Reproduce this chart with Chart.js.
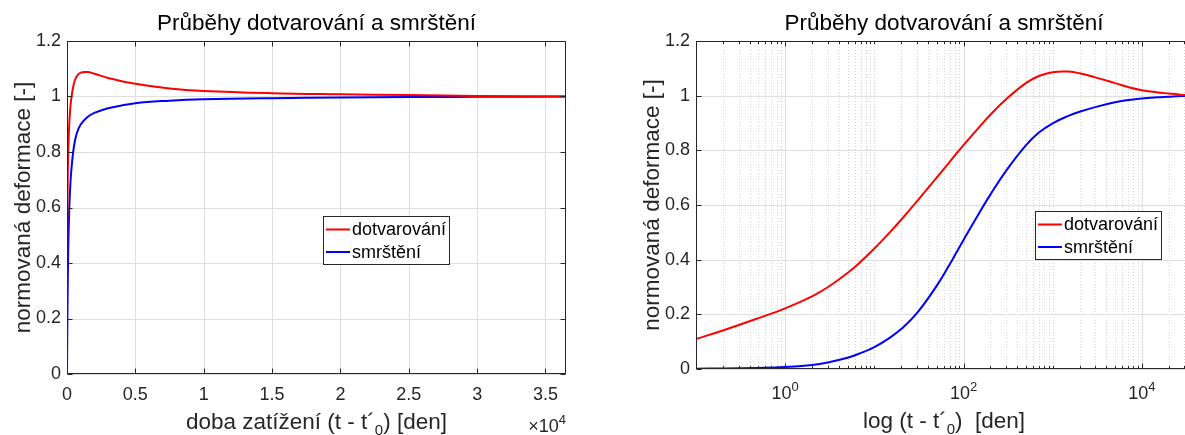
<!DOCTYPE html>
<html><head><meta charset="utf-8">
<script src="https://cdn.jsdelivr.net/npm/chart.js@4.4.1/dist/chart.umd.min.js"></script>
<style>
html,body{margin:0;padding:0;background:#fff;overflow:hidden;width:1185px;height:435px;}
.wrap{position:absolute;top:0;width:600px;height:435px;}
</style></head><body>
<div class="wrap" style="left:0"><canvas id="c1" width="600" height="435"></canvas></div>
<div class="wrap" style="left:600px"><canvas id="c2" width="600" height="435"></canvas></div>
<script>
// ---- data ----
const T_DAYS = [0, 0.1, 0.2, 0.5, 1, 2, 3, 5, 7, 10, 15, 20, 30, 50, 75, 100, 150, 200, 300, 500, 700, 1000, 1500, 2000, 3000, 5000, 7500, 10000, 15000, 20000, 25000, 30000, 36500];
const CREEP  = [0, 0.110, 0.141, 0.186, 0.222, 0.266, 0.299, 0.351, 0.392, 0.441, 0.501, 0.546, 0.613, 0.700, 0.770, 0.819, 0.885, 0.930, 0.987, 1.046, 1.072, 1.086, 1.088, 1.082, 1.067, 1.046, 1.029, 1.020, 1.012, 1.008, 1.005, 1.002, 1.0];
const SHRINK = [0, 0.001, 0.002, 0.004, 0.007, 0.015, 0.024, 0.041, 0.058, 0.080, 0.115, 0.146, 0.204, 0.304, 0.400, 0.472, 0.571, 0.638, 0.725, 0.818, 0.865, 0.899, 0.926, 0.941, 0.958, 0.976, 0.985, 0.990, 0.994, 0.996, 0.998, 0.999, 1.0];
const SERIES_NAMES = ['dotvarování', 'smrštění'];
const SERIES_COLORS = ['#ff0000', '#0000ff'];
const Y_TICKS = [0, 0.2, 0.4, 0.6, 0.8, 1, 1.2];
const Y_TICK_LABELS = ['0', '0.2', '0.4', '0.6', '0.8', '1', '1.2'];
const X_TICKS_LIN = [0, 5000, 10000, 15000, 20000, 25000, 30000, 35000];
const X_TICK_LABELS_LIN = ['0', '0.5', '1', '1.5', '2', '2.5', '3', '3.5'];
const X_RANGE_LIN = [0, 36500];
const X_TICKS_LOG = [1, 100, 10000];
const X_TICK_LABELS_LOG = [['10', '0'], ['10', '2'], ['10', '4']];
const X_RANGE_LOG = [0.1, 36500];
const TITLE = 'Průběhy dotvarování a smrštění';
const Y_LABEL = 'normovaná deformace [-]';
const X_LABEL_LIN = ['doba zatížení (t - t´', '0', ') [den]'];
const X_LABEL_LOG = ['log (t - t´', '0', ')  [den]'];
const X_EXPONENT = ['×10', '4'];

// ---- styling ----
const FONT = '"Liberation Sans", Arial, Helvetica, sans-serif';
const TXT = '#262626';
const AXIS = '#262626';
const GRID = '#dedede';
const MINOR = '#d4d4d4';

function drawRich(ctx, parts, x, y, align, color) {
  let total = 0;
  parts.forEach(p => { ctx.font = p.size + 'px ' + FONT; p.w = ctx.measureText(p.t).width; total += p.w; });
  let cx = align === 'center' ? x - total / 2 : (align === 'right' ? x - total : x);
  ctx.fillStyle = color; ctx.textAlign = 'left'; ctx.textBaseline = 'alphabetic';
  parts.forEach(p => { ctx.font = p.size + 'px ' + FONT; ctx.fillText(p.t, cx, y + (p.dy || 0)); cx += p.w; });
}

function minorLogValues(range) {
  const out = [];
  for (let k = -1; k <= 4; k++) for (let m = 1; m <= 9; m++) {
    const v = m * Math.pow(10, k);
    if (v >= range[0] && v <= range[1] && !X_TICKS_LOG.includes(v)) out.push(v);
  }
  return out;
}

function decorPlugin(cfg) {
  return {
    id: 'decor',
    beforeDatasetsDraw(chart) {
      const {ctx, chartArea: a, scales: {x, y}} = chart;
      ctx.save();
      ctx.lineWidth = 1;
      if (cfg.log) {
        ctx.strokeStyle = MINOR; ctx.setLineDash([1, 2]);
        minorLogValues(X_RANGE_LOG).forEach(v => {
          const px = Math.round(x.getPixelForValue(v)) + 0.5;
          ctx.beginPath(); ctx.moveTo(px, a.top); ctx.lineTo(px, a.bottom); ctx.stroke();
        });
        ctx.setLineDash([]);
      }
      ctx.strokeStyle = GRID;
      (cfg.log ? X_TICKS_LOG : X_TICKS_LIN).forEach(v => {
        const px = Math.round(x.getPixelForValue(v)) + 0.5;
        ctx.beginPath(); ctx.moveTo(px, a.top); ctx.lineTo(px, a.bottom); ctx.stroke();
      });
      Y_TICKS.forEach(v => {
        const py = Math.round(y.getPixelForValue(v)) + 0.5;
        ctx.beginPath(); ctx.moveTo(a.left, py); ctx.lineTo(a.right, py); ctx.stroke();
      });
      ctx.restore();
    },
    afterDatasetsDraw(chart) {
      const {ctx, chartArea: a, scales: {x, y}} = chart;
      ctx.save();
      ctx.strokeStyle = AXIS; ctx.lineWidth = 1;
      const L = Math.round(a.left) + 0.5, R = Math.round(a.right) - 0.5;
      const T = Math.round(a.top) + 0.5, B = Math.round(a.bottom) - 0.5;
      ctx.strokeRect(L, T, R - L, B - T);
      const tick = (x1, y1, x2, y2) => { ctx.beginPath(); ctx.moveTo(x1, y1); ctx.lineTo(x2, y2); ctx.stroke(); };
      Y_TICKS.forEach(v => {
        const py = Math.round(y.getPixelForValue(v)) + 0.5;
        tick(L, py, L + 5, py); tick(R, py, R - 5, py);
      });
      (cfg.log ? X_TICKS_LOG : X_TICKS_LIN).forEach(v => {
        const px = Math.round(x.getPixelForValue(v)) + 0.5;
        tick(px, B, px, B - 5); tick(px, T, px, T + 5);
      });
      if (cfg.log) {
        minorLogValues(X_RANGE_LOG).forEach(v => {
          const px = Math.round(x.getPixelForValue(v)) + 0.5;
          tick(px, B, px, B - 2.5); tick(px, T, px, T + 2.5);
        });
      }
      const cx = (a.left + a.right) / 2;
      ctx.fillStyle = '#000'; ctx.textAlign = 'center'; ctx.textBaseline = 'alphabetic';
      ctx.font = '22.5px ' + FONT;
      ctx.fillText(TITLE, cx, cfg.titleBase);
      const xl = cfg.log ? X_LABEL_LOG : X_LABEL_LIN;
      drawRich(ctx, [{t: xl[0], size: 22.5}, {t: xl[1], size: 15, dy: 6}, {t: xl[2], size: 22.5}], cx, cfg.xTitleBase, 'center', TXT);
      if (cfg.log) {
        X_TICKS_LOG.forEach((v, i) => {
          const px = x.getPixelForValue(v);
          drawRich(ctx, [{t: X_TICK_LABELS_LOG[i][0], size: 18}, {t: X_TICK_LABELS_LOG[i][1], size: 13, dy: -8}], px, cfg.logLabelBase, 'center', TXT);
        });
      } else {
        drawRich(ctx, [{t: X_EXPONENT[0], size: 18}, {t: X_EXPONENT[1], size: 13, dy: -8}], a.right, cfg.expBase, 'right', TXT);
      }
      const lx = a.left + cfg.legend.dx, ly = cfg.legend.top;
      ctx.fillStyle = '#fff'; ctx.fillRect(lx, ly, 126, 48);
      ctx.strokeStyle = AXIS; ctx.lineWidth = 1;
      ctx.strokeRect(Math.round(lx) + 0.5, Math.round(ly) + 0.5, 126, 48);
      chart.data.datasets.forEach((ds, i) => {
        const ry = ly + 13.5 + i * 22.5;
        ctx.strokeStyle = ds.borderColor; ctx.lineWidth = 2;
        ctx.beginPath(); ctx.moveTo(lx + 3, ry); ctx.lineTo(lx + 27, ry); ctx.stroke();
        ctx.fillStyle = '#000'; ctx.font = '18px ' + FONT; ctx.textAlign = 'left'; ctx.textBaseline = 'middle';
        ctx.fillText(ds.label, lx + 29, ry + 1);
      });
      ctx.restore();
    }
  };
}

function makeChart(id, cfg) {
  const ds = (vals, i) => ({
    label: SERIES_NAMES[i],
    data: T_DAYS.map((t, k) => ({x: t, y: vals[k]})).filter(p => !cfg.log || p.x > 0),
    borderColor: SERIES_COLORS[i], borderWidth: 2, pointRadius: 0, fill: false,
    tension: 0.4
  });
  const range = cfg.log ? X_RANGE_LOG : X_RANGE_LIN;
  return new Chart(document.getElementById(id), {
    type: 'line',
    data: {datasets: [ds(CREEP, 0), ds(SHRINK, 1)]},
    options: {
      responsive: false, animation: false, devicePixelRatio: 1,
      layout: {padding: {top: cfg.area.top, right: cfg.W - cfg.area.right, bottom: 0, left: 0}},
      plugins: {legend: {display: false}, title: {display: false}, tooltip: {enabled: false}},
      scales: {
        x: {
          type: cfg.log ? 'logarithmic' : 'linear', min: range[0], max: range[1],
          afterFit: s => { s.height = cfg.H - cfg.area.bottom; },
          afterBuildTicks: s => { s.ticks = (cfg.log ? X_TICKS_LOG : X_TICKS_LIN).map(v => ({value: v})); },
          ticks: {display: !cfg.log, padding: cfg.xTickPad, maxRotation: 0, autoSkip: false, color: TXT,
                  font: {family: FONT, size: 18}, callback: (v, i) => X_TICK_LABELS_LIN[i]},
          grid: {display: false, drawTicks: false}, border: {display: false}
        },
        y: {
          type: 'linear', min: 0, max: 1.2,
          afterFit: s => { s.width = cfg.area.left; },
          afterBuildTicks: s => { s.ticks = Y_TICKS.map(v => ({value: v})); },
          ticks: {padding: 6, color: TXT, font: {family: FONT, size: 18}, callback: (v, i) => Y_TICK_LABELS[i]},
          title: {display: true, text: Y_LABEL, color: TXT, font: {family: FONT, size: 22.5}, padding: {top: cfg.yTitlePad, bottom: 0}},
          grid: {display: false, drawTicks: false}, border: {display: false}
        }
      }
    },
    plugins: [decorPlugin(cfg)]
  });
}

makeChart('c1', {log: false, W: 600, H: 435, area: {left: 67, right: 566, top: 41, bottom: 374},
  yTitlePad: 10, xTickPad: 10, legend: {dx: 256, top: 216}, titleBase: 30, xTitleBase: 429, expBase: 432});
makeChart('c2', {log: true, W: 600, H: 435, area: {left: 96, right: 592, top: 41, bottom: 369},
  yTitlePad: 39, xTickPad: 10, legend: {dx: 339, top: 211}, titleBase: 30, xTitleBase: 428, logLabelBase: 399});
</script>
</body></html>
